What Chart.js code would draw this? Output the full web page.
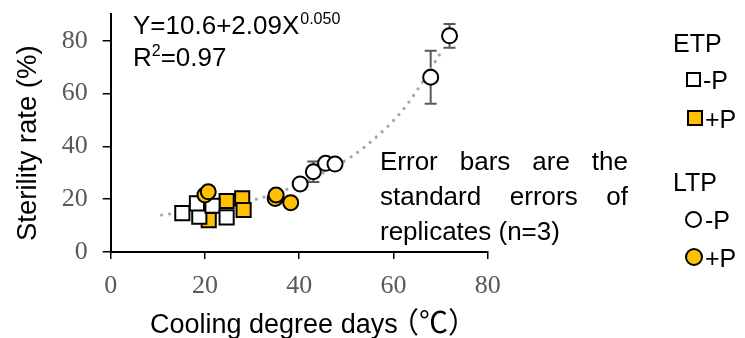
<!DOCTYPE html>
<html><head><meta charset="utf-8">
<script src="https://cdn.jsdelivr.net/npm/chart.js@4/dist/chart.umd.min.js"></script>
<style>html,body{margin:0;padding:0;background:#fff}#wrap{width:745px;height:338px;position:relative}</style>
</head><body><div id="wrap"><canvas id="c" width="745" height="338"></canvas></div>
<script>
// ---- data ----
const xTicks = [0, 20, 40, 60, 80];
const yTicks = [0, 20, 40, 60, 80];
const etpNoP_x = [15.2, 18.8, 18.3, 21.6, 24.6];
const etpNoP_y = [14.7, 13.4, 18.4, 17.5, 13.1];
const etpP_x = [20.8, 24.6, 27.9, 28.2];
const etpP_y = [12.1, 19.3, 20.3, 15.9];
const ltpNoP_x = [40.2, 43.0, 45.6, 47.6, 67.9, 71.9];
const ltpNoP_y = [25.8, 30.4, 33.6, 33.3, 66.2, 81.9];
const ltpNoP_err = [0, 3.9, 0, 0, 10.0, 4.5];
const ltpP_x = [20.0, 20.7, 34.9, 35.1, 38.2];
const ltpP_y = [21.6, 22.8, 20.3, 21.6, 18.7];
const trend_x = [10.8, 15, 20, 25, 31.5, 38, 44, 51, 56, 62, 66, 70.6];
const trend_y = [14.0, 15.0, 16.4, 18.0, 20.3, 24.1, 29.0, 36.0, 43.0, 53.8, 63.9, 77.2];

const YEL = '#FFC000';
const pts = (xs, ys) => xs.map((v, i) => ({x: v, y: ys[i]}));

const extras = {
  id: 'extras',
  beforeDatasetsDraw(chart) {
    const {ctx, scales: {x, y}} = chart;
    ctx.save();
    ctx.strokeStyle = '#595959'; ctx.lineWidth = 2;
    ltpNoP_x.forEach((v, i) => {
      const e = ltpNoP_err[i]; if (!e) return;
      const px = x.getPixelForValue(v);
      const y1 = y.getPixelForValue(ltpNoP_y[i] + e), y2 = y.getPixelForValue(ltpNoP_y[i] - e);
      ctx.beginPath();
      ctx.moveTo(px, y1); ctx.lineTo(px, y2);
      ctx.moveTo(px - 6, y1); ctx.lineTo(px + 6, y1);
      ctx.moveTo(px - 6, y2); ctx.lineTo(px + 6, y2);
      ctx.stroke();
    });
    ctx.restore();
  },
  afterDraw(chart) {
    const ctx = chart.ctx;
    ctx.save();
    ctx.fillStyle = '#000';
    ctx.textBaseline = 'alphabetic';
    ctx.textAlign = 'left';
    const F = (s) => s + 'px "Liberation Sans", Arial, sans-serif';
    // equation
    ctx.font = F(26);
    ctx.fillText('Y=10.6+2.09X', 133, 34);
    let w = ctx.measureText('Y=10.6+2.09X').width;
    ctx.font = F(16);
    ctx.fillText('0.050', 133 + w + 1, 24);
    ctx.font = F(26);
    ctx.fillText('R', 133, 66);
    w = ctx.measureText('R').width;
    ctx.font = F(16);
    ctx.fillText('2', 133 + w, 56);
    const w2 = ctx.measureText('2').width;
    ctx.font = F(26);
    ctx.fillText('=0.97', 133 + w + w2, 66);
    // error bar note (justified)
    const justify = (text, x0, x1, yb) => {
      const words = text.split(' ');
      const ws = words.map(t => ctx.measureText(t).width);
      const gap = (x1 - x0 - ws.reduce((a, b) => a + b, 0)) / (words.length - 1);
      let xx = x0;
      words.forEach((t, i) => { ctx.fillText(t, xx, yb); xx += ws[i] + gap; });
    };
    justify('Error bars are the', 380, 628, 170);
    justify('standard errors of', 380, 628, 205);
    ctx.fillText('replicates (n=3)', 380, 240);
    // axis titles
    ctx.font = F(27);
    ctx.fillText('Cooling degree days', 150, 333);
    ctx.font = '29px "Noto Sans CJK SC", sans-serif';
    ctx.fillText('（℃）', 390, 333);
    ctx.font = F(27.5);
    ctx.save();
    ctx.translate(36, 241);
    ctx.rotate(-Math.PI / 2);
    ctx.fillText('Sterility rate (%)', 0, 0);
    ctx.restore();
    // legend
    ctx.font = F(25);
    ctx.fillText('ETP', 673, 52);
    ctx.fillText('LTP', 673, 191);
    ctx.fillText('-P', 703, 89);
    ctx.fillText('+P', 705, 128);
    ctx.fillText('-P', 705, 229);
    ctx.fillText('+P', 705, 267);
    ctx.lineWidth = 2; ctx.strokeStyle = '#000';
    ctx.fillStyle = '#fff';
    ctx.fillRect(687, 73, 13, 13); ctx.strokeRect(687, 73, 13, 13);
    ctx.fillStyle = YEL;
    ctx.fillRect(688, 111, 14, 14); ctx.strokeRect(688, 111, 14, 14);
    ctx.fillStyle = '#fff';
    ctx.beginPath(); ctx.arc(693.5, 219.5, 7.5, 0, Math.PI * 2); ctx.fill(); ctx.stroke();
    ctx.fillStyle = YEL;
    ctx.beginPath(); ctx.arc(694, 257, 8, 0, Math.PI * 2); ctx.fill(); ctx.stroke();
    ctx.restore();
  }
};

new Chart(document.getElementById('c'), {
  type: 'scatter',
  data: {
    datasets: [
      {label: 'LTP +P', data: pts(ltpP_x, ltpP_y), pointStyle: 'circle', pointRadius: 7.5, backgroundColor: YEL, borderColor: '#000', borderWidth: 2},
      {label: 'LTP -P', data: pts(ltpNoP_x, ltpNoP_y), pointStyle: 'circle', pointRadius: 7.5, backgroundColor: '#fff', borderColor: '#000', borderWidth: 2},
      {label: 'ETP -P', data: pts(etpNoP_x, etpNoP_y), pointStyle: 'rect', pointRadius: 10, backgroundColor: '#fff', borderColor: '#000', borderWidth: 2},
      {label: 'ETP +P', data: pts(etpP_x, etpP_y), pointStyle: 'rect', pointRadius: 10, backgroundColor: YEL, borderColor: '#000', borderWidth: 2},
      {label: 'trend', data: pts(trend_x, trend_y), showLine: true, pointRadius: 0, borderColor: '#A6A6A6', borderWidth: 3.2, borderDash: [0.01, 8], borderCapStyle: 'round', cubicInterpolationMode: 'monotone', fill: false}
    ]
  },
  options: {
    responsive: false,
    animation: false,
    devicePixelRatio: 1,
    layout: {padding: {left: 0, right: 257.3, top: 14.4, bottom: 0}},
    plugins: {legend: {display: false}, tooltip: {enabled: false}},
    scales: {
      x: {
        type: 'linear', min: 0, max: 80,
        afterBuildTicks: s => { s.ticks = xTicks.map(v => ({value: v})); },
        afterFit: s => { s.height = 86; s.paddingLeft = 0; s.paddingRight = 0; },
        ticks: {color: '#595959', font: {family: '"Liberation Serif", serif', size: 26}, padding: 12, maxRotation: 0},
        grid: {drawOnChartArea: false, drawTicks: true, tickLength: 7, color: '#000', lineWidth: 1.5},
        border: {display: true, color: '#000', width: 2}
      },
      y: {
        type: 'linear', min: 0, max: 90,
        afterBuildTicks: s => { s.ticks = yTicks.map(v => ({value: v})); },
        afterFit: s => { s.width = 110.7; s.paddingTop = 0; s.paddingBottom = 0; },
        ticks: {color: '#595959', font: {family: '"Liberation Serif", serif', size: 26}, padding: 15},
        grid: {drawOnChartArea: false, drawTicks: true, tickLength: 8, color: '#000', lineWidth: 1.5},
        border: {display: true, color: '#000', width: 2}
      }
    }
  },
  plugins: [extras]
});
</script></body></html>
